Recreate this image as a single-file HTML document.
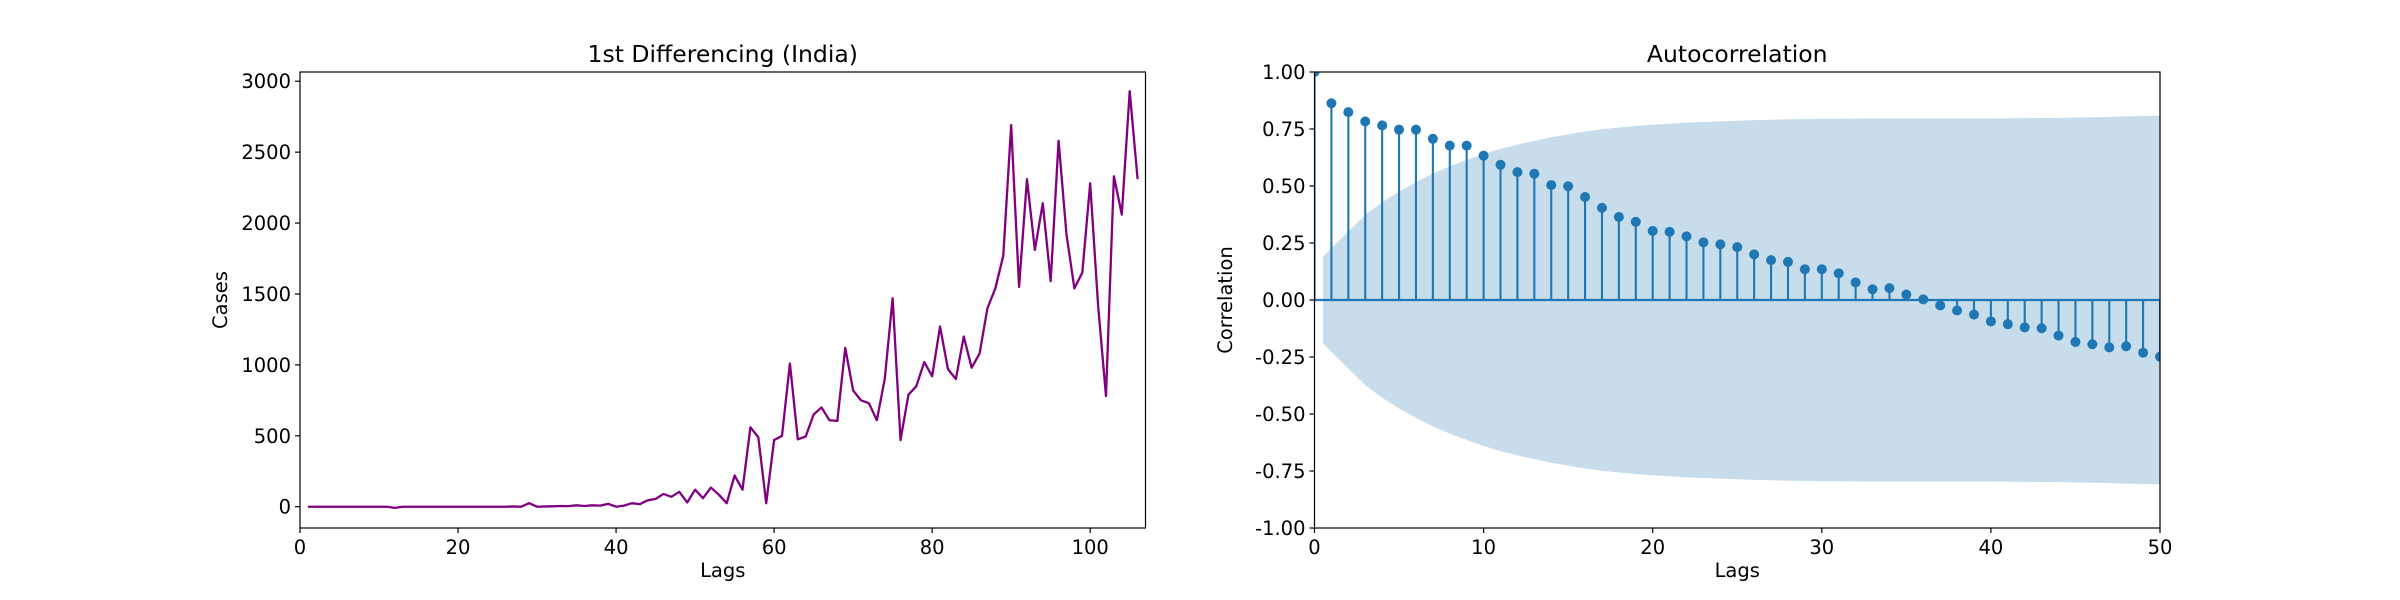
<!DOCTYPE html>
<html><head><meta charset="utf-8"><style>
html,body{margin:0;padding:0;background:#fff;}
svg{display:block;font-family:"DejaVu Sans","Liberation Sans",sans-serif;}
</style></head><body>
<svg id="fig" width="2400" height="600" viewBox="0 0 2400 600" xmlns="http://www.w3.org/2000/svg">
<rect width="2400" height="600" fill="#fff"/>
</svg>
<script>
// Left chart data: first-differenced daily cases (India)
const diffX = Array.from({length:106},(_,i)=>i+1);
const diffCases = [0,0,0,0,0,0,0,0,0,0,0,-8,0,0,0,0,0,0,0,0,0,0,0,0,0,0,2,0,25,0,
2,3,5,4,10,5,10,8,20,0,8,25,18,45,55,90,70,105,30,120,
60,135,85,25,220,120,560,490,25,470,500,1010,475,495,650,700,610,605,1120,820,
750,730,610,900,1470,470,790,850,1020,920,1270,970,900,1200,980,1080,1400,1540,1770,2690,
1550,2310,1810,2140,1590,2580,1920,1540,1650,2280,1420,780,2330,2060,2930,2310];
const leftXTicks = [0,20,40,60,80,100];
const leftYTicks = [0,500,1000,1500,2000,2500,3000];
// Right chart data: autocorrelation
const acfLags = Array.from({length:51},(_,i)=>i);
const acfValues = [1.0,0.863,0.824,0.783,0.766,0.747,0.747,0.707,0.677,0.677,0.633,
0.593,0.561,0.554,0.504,0.499,0.452,0.404,0.364,0.343,0.303,
0.299,0.279,0.253,0.244,0.232,0.200,0.175,0.167,0.135,0.135,
0.117,0.077,0.047,0.052,0.024,0.003,-0.024,-0.046,-0.064,-0.094,
-0.106,-0.120,-0.124,-0.156,-0.184,-0.194,-0.208,-0.203,-0.231,-0.249];
const nObs = 106;
const rightXTicks = [0,10,20,30,40,50];
const rightYTicks = [-1,-0.75,-0.5,-0.25,0,0.25,0.5,0.75,1];

const NS='http://www.w3.org/2000/svg';
const svg=document.getElementById('fig');
function mk(tag,attrs,parent){const e=document.createElementNS(NS,tag);for(const k in attrs)e.setAttribute(k,attrs[k]);(parent||svg).appendChild(e);return e;}
const TOP=72, BOT=528, FS=19.5, TFS=23.5;

// ---------- LEFT ----------
const L={x0:300,x1:1145.5,xmin:0,xmax:107,ymin:-150,ymax:3065};
const lx=v=>L.x0+(v-L.xmin)/(L.xmax-L.xmin)*(L.x1-L.x0);
const ly=v=>BOT-(v-L.ymin)/(L.ymax-L.ymin)*(BOT-TOP);
const gL=mk('g',{});


mk('defs',{}).innerHTML='<clipPath id="clipL"><rect x="300" y="72" width="845.5" height="456"/></clipPath><clipPath id="clipR"><rect x="1314.5" y="72" width="845.5" height="456"/></clipPath>';
const pts=diffX.map((x,i)=>lx(x).toFixed(2)+','+ly(diffCases[i]).toFixed(2)).join(' ');
const line=mk('polyline',{points:pts,fill:'none',stroke:'#800080','stroke-width':2.3,'stroke-linejoin':'round','clip-path':'url(#clipL)'},gL);


const frL=mk('rect',{x:L.x0,y:TOP,width:L.x1-L.x0,height:BOT-TOP,fill:'none',stroke:'#000','stroke-width':1.2},gL);


leftXTicks.forEach(t=>{const x=lx(t);mk('line',{x1:x,y1:BOT,x2:x,y2:BOT+5,stroke:'#000','stroke-width':1.2},gL);
 const tx=mk('text',{x:x,y:BOT+26,'font-size':FS,'text-anchor':'middle',fill:'#000'},gL);tx.textContent=t;
 
 });
leftYTicks.forEach(t=>{const y=ly(t);mk('line',{x1:L.x0-5,y1:y,x2:L.x0,y2:y,stroke:'#000','stroke-width':1.2},gL);
 const tx=mk('text',{x:L.x0-9,y:y+7,'font-size':FS,'text-anchor':'end',fill:'#000'},gL);tx.textContent=t;
 
 });
let t=mk('text',{x:(L.x0+L.x1)/2,y:62,'font-size':TFS,'text-anchor':'middle'},gL);t.textContent='1st Differencing (India)';


t=mk('text',{x:(L.x0+L.x1)/2,y:577,'font-size':FS,'text-anchor':'middle'},gL);t.textContent='Lags';


t=mk('text',{x:0,y:0,'font-size':FS,'text-anchor':'middle',transform:'translate(227,'+((TOP+BOT)/2)+') rotate(-90)'},gL);t.textContent='Cases';



// ---------- RIGHT ----------
const R={x0:1314.5,x1:2160,xmin:0,xmax:50,ymin:-1,ymax:1};
const rx=v=>R.x0+(v-R.xmin)/(R.xmax-R.xmin)*(R.x1-R.x0);
const ry=v=>BOT-(v-R.ymin)/(R.ymax-R.ymin)*(BOT-TOP);
const gR=mk('g',{});


const band=[];let s=0;
for(let k=1;k<acfLags.length;k++){band.push(1.96*Math.sqrt((1+2*s)/nObs));s+=acfValues[k]*acfValues[k];}
const bx=acfLags.slice(1).map(v=>v);bx[0]-=0.5;bx[bx.length-1]+=0.5;
let d='M'+bx.map((x,i)=>rx(x).toFixed(2)+','+ry(band[i]).toFixed(2)).join(' L');
for(let i=bx.length-1;i>=0;i--)d+=' L'+rx(bx[i]).toFixed(2)+','+ry(-band[i]).toFixed(2);
const bp=mk('path',{d:d+'Z',fill:'#1f77b4','fill-opacity':0.25,stroke:'none','clip-path':'url(#clipR)'},gR);


const zl=mk('line',{x1:R.x0,y1:ry(0),x2:R.x1,y2:ry(0),stroke:'#1f77b4','stroke-width':2.3},gR);


const gs=mk('g',{'clip-path':'url(#clipR)'},gR);
acfLags.forEach((lag,i)=>{const x=rx(lag),y=ry(acfValues[i]);
 const st=mk('line',{x1:x,y1:ry(0),x2:x,y2:y,stroke:'#1f77b4','stroke-width':2.1},gs);
 
 
 const c=mk('circle',{cx:x,cy:y,r:5,fill:'#1f77b4'},gs);
 
 });
const frR=mk('rect',{x:R.x0,y:TOP,width:R.x1-R.x0,height:BOT-TOP,fill:'none',stroke:'#000','stroke-width':1.2},gR);


rightXTicks.forEach(t=>{const x=rx(t);mk('line',{x1:x,y1:BOT,x2:x,y2:BOT+5,stroke:'#000','stroke-width':1.2},gR);
 const tx=mk('text',{x:x,y:BOT+26,'font-size':FS,'text-anchor':'middle'},gR);tx.textContent=t;
 
 });
rightYTicks.forEach(t=>{const y=ry(t);mk('line',{x1:R.x0-5,y1:y,x2:R.x0,y2:y,stroke:'#000','stroke-width':1.2},gR);
 const tx=mk('text',{x:R.x0-9,y:y+7,'font-size':FS,'text-anchor':'end'},gR);tx.textContent=t.toFixed(2);
 
 });
t=mk('text',{x:(R.x0+R.x1)/2,y:62,'font-size':TFS,'text-anchor':'middle'},gR);t.textContent='Autocorrelation';


t=mk('text',{x:(R.x0+R.x1)/2,y:577,'font-size':FS,'text-anchor':'middle'},gR);t.textContent='Lags';


t=mk('text',{x:0,y:0,'font-size':FS,'text-anchor':'middle',transform:'translate(1232,'+((TOP+BOT)/2)+') rotate(-90)'},gR);t.textContent='Correlation';


</script>
</body></html>
